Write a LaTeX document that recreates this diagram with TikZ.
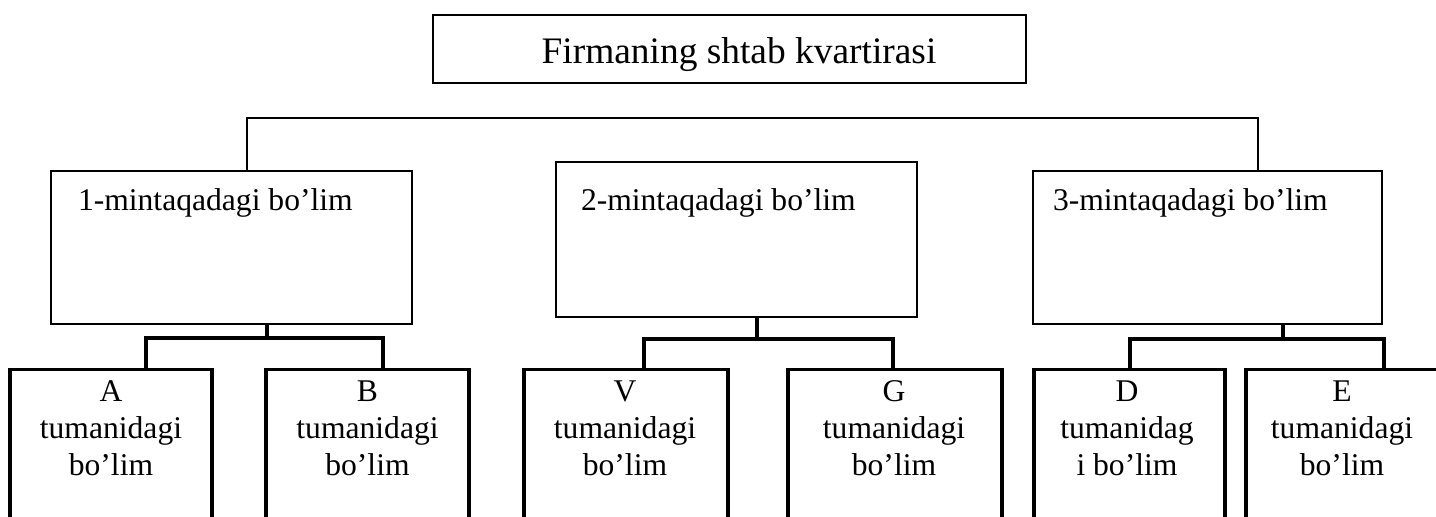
\documentclass[tikz,border=0pt]{standalone}
\usepackage{fontspec}
\setmainfont{Liberation Serif}
\begin{document}
\begin{tikzpicture}[x=0.5pt,y=-0.5pt,
  txt/.style={inner sep=0pt, outer sep=0pt, font=\fontsize{15.8}{18.5}\selectfont},
  bigtxt/.style={inner sep=0pt, outer sep=0pt, font=\fontsize{18.7}{22}\selectfont},
  ltxt/.style={txt, align=center},
  topbox/.style={draw, line width=0.9pt, rectangle, inner sep=0pt, outer sep=0pt},
  midbox/.style={draw, line width=0.9pt, rectangle, inner sep=0pt, outer sep=0pt},
  lowbox/.style={draw, line width=1.8pt, rectangle, inner sep=0pt, outer sep=0pt, minimum height=95.25pt},
  thinline/.style={line width=0.9pt},
  thickline/.style={line width=1.8pt}]
\useasboundingbox (0,0) rectangle (1436,516);
\clip (0,0) rectangle (1436,516);
% top
\node[topbox, minimum width=296.5pt, minimum height=34pt] (top) at (729.5,49) {};
\node[bigtxt, anchor=base] (toptxt) at (739,63) {Firmaning shtab kvartirasi};
% level 2
\node[midbox, minimum width=180.5pt, minimum height=76.5pt] (r1) at (231.5,247.5) {};
\node[midbox, minimum width=180.5pt, minimum height=77.5pt] (r2) at (736.5,239.5) {};
\node[midbox, minimum width=174.5pt, minimum height=76.5pt] (r3) at (1207.5,247.5) {};
\node[txt, anchor=base west] (t1) at (78,210) {1-mintaqadagi bo’lim};
\node[txt, anchor=base west] (t2) at (581,210) {2-mintaqadagi bo’lim};
\node[txt, anchor=base west] (t3) at (1053,210) {3-mintaqadagi bo’lim};
% level 3
\node[lowbox, minimum width=101pt] (a) at (111,464.75) {};
\node[lowbox, minimum width=101.5pt] (b) at (367.5,464.75) {};
\node[lowbox, minimum width=102pt] (v) at (626,464.75) {};
\node[lowbox, minimum width=107pt] (g) at (895,464.75) {};
\node[lowbox, minimum width=95.5pt] (d) at (1129.5,464.75) {};
\node[lowbox, minimum width=100pt] (e) at (1346,464.75) {};
\node[ltxt, anchor=base] (ta) at (111,475) {A\\tumanidagi\\bo’lim};
\node[ltxt, anchor=base] (tb) at (367.5,475) {B\\tumanidagi\\bo’lim};
\node[ltxt, anchor=base] (tv) at (625,475) {V\\tumanidagi\\bo’lim};
\node[ltxt, anchor=base] (tg) at (894,475) {G\\tumanidagi\\bo’lim};
\node[ltxt, anchor=base] (td) at (1127,475) {D\\tumanidag\\i bo’lim};
\node[ltxt, anchor=base] (te) at (1342,475) {E\\tumanidagi\\bo’lim};
% connectors top
\coordinate (j1) at (247,118);
\coordinate (j3) at (1258,118);
\draw[thinline] (j1 |- r1.north) -- (j1) -- (j3) -- (j3 |- r3.north);
% connectors level 3
\coordinate (k1) at (267,338);
\coordinate (ka) at (146,338);
\coordinate (kb) at (383,338);
\draw[thickline] (k1 |- r1.south) -- (k1);
\draw[thickline] (ka |- a.north) -- (ka) -- (kb) -- (kb |- b.north);
\coordinate (k2) at (757,339);
\coordinate (kv) at (644,339);
\coordinate (kg) at (893,339);
\draw[thickline] (k2 |- r2.south) -- (k2);
\draw[thickline] (kv |- v.north) -- (kv) -- (kg) -- (kg |- g.north);
\coordinate (k3) at (1283,339);
\coordinate (kd) at (1130,339);
\coordinate (ke) at (1384,339);
\draw[thickline] (k3 |- r3.south) -- (k3);
\draw[thickline] (kd |- d.north) -- (kd) -- (ke) -- (ke |- e.north);
\end{tikzpicture}
\end{document}
